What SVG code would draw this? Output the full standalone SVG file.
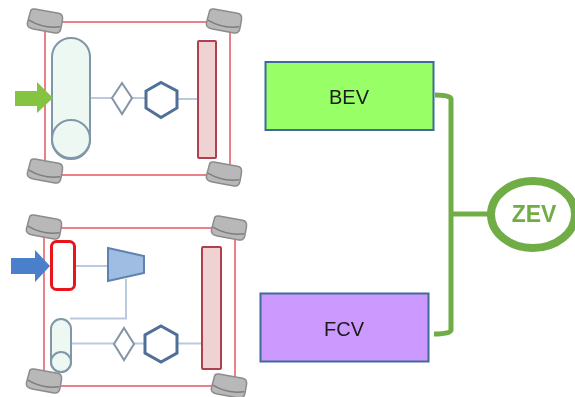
<svg xmlns="http://www.w3.org/2000/svg" width="575" height="397" viewBox="0 0 575 397">
<style>
text{font-family:"Liberation Sans",Arial,sans-serif;text-anchor:middle}
.frame{fill:none;stroke:#ea8088;stroke-width:2}
.tank{fill:#eef8f2;stroke:#7f97a8;stroke-width:2}
.link{fill:none;stroke:#b9c9de;stroke-width:2}
.dia{fill:#fff;stroke:#8595a8;stroke-width:2}
.hex{fill:#fff;stroke:#4f6f97;stroke-width:3}
.bar{fill:#eed2d4;stroke:#b0404e;stroke-width:2}
.box{stroke:#3f6a9c;stroke-width:2}
.conn{fill:none;stroke:#70ad47;stroke-width:5}
.w1{fill:#b8b8b8;stroke:#8c8c8c;stroke-width:1.5}
.w2{fill:none;stroke:#7d7d7d;stroke-width:1.5}
</style>
<defs>
<g id="wheel">
<path d="M-16 -7Q-16 -10 -12 -10H12Q17 -10 17 -4V4Q17 10 12 10H-10Q-17 10 -17 5Z" class="w1"/>
<path d="M-16 2Q0 8 16 3" class="w2"/>
</g>
<filter id="soft" x="-2%" y="-2%" width="104%" height="104%"><feGaussianBlur stdDeviation="0.5"/></filter>
</defs>
<g filter="url(#soft)">
<g id="car-bev">
<rect x="45" y="22" width="185" height="153" class="frame"/>
<use href="#wheel" transform="translate(45 21) rotate(10)"/>
<use href="#wheel" transform="translate(224 21) rotate(10)"/>
<use href="#wheel" transform="translate(45 171) rotate(10)"/>
<use href="#wheel" transform="translate(224 174) rotate(10)"/>
<path d="M90 98H112M132 98H146M177 99H198" class="link"/>
<rect x="52" y="38" width="38" height="121" rx="19" class="tank"/>
<circle cx="71" cy="139" r="19" class="tank"/>
<path d="M15 91H37V82L53 98L37 113V106H15Z" fill="#84c441"/>
<path d="M122 83L132 98L122 114L112 98Z" class="dia"/>
<path d="M161 82.500L177 91V108L161 117.500L146 108V91Z" class="hex"/>
<rect x="198" y="41" width="18" height="117" rx="1" class="bar"/>
</g>
<g id="car-fcv">
<rect x="44" y="228" width="191" height="158" class="frame"/>
<use href="#wheel" transform="translate(44 227) rotate(10)"/>
<use href="#wheel" transform="translate(229 228) rotate(10)"/>
<use href="#wheel" transform="translate(44 381) rotate(10)"/>
<use href="#wheel" transform="translate(229 386) rotate(10)"/>
<path d="M75 266L108 266M126 279V318.500H70M71 343.500H114M134 343.500H145M177 343.500H202" class="link"/>
<rect x="51.500" y="241.500" width="23" height="48" rx="5" fill="#fff" stroke="#e8121c" stroke-width="3"/>
<path d="M11 258H35V250L50 266L35 282V274H11Z" fill="#4a7fcb"/>
<path d="M108 248L144 256V273L108 281Z" fill="#9fbde3" stroke="#5d82ae" stroke-width="2"/>
<rect x="51" y="319" width="20" height="53" rx="10" class="tank"/>
<circle cx="61" cy="362" r="10" class="tank"/>
<path d="M124 328L134 344L124 360L114 344Z" class="dia"/>
<path d="M161 326L177 335V353L161 362L145 353V335Z" class="hex"/>
<rect x="202" y="247" width="19" height="122" rx="1" class="bar"/>
</g>
</g>
<g id="connectors" filter="url(#soft)">
<path d="M435 95Q451 95 451 99V330Q451 334 434 334M451 214H488" class="conn"/>
</g>
<g filter="url(#soft)">
<g id="bev"><rect x="265.500" y="62" width="168" height="68" fill="#99ff66" class="box"/><text x="349" y="104" font-size="20" fill="#1a1a1a">BEV</text></g>
<g id="fcv"><rect x="260.500" y="293.500" width="168" height="68" fill="#cc99ff" class="box"/><text x="344" y="336" font-size="20" fill="#1a1a1a">FCV</text></g>
<g id="zev"><ellipse cx="533" cy="214.500" rx="42" ry="33.500" fill="#fff" stroke="#70ad47" stroke-width="8"/><text x="534" y="222" font-size="23" font-weight="bold" fill="#70ad47">ZEV</text></g>
</g>
</svg>
